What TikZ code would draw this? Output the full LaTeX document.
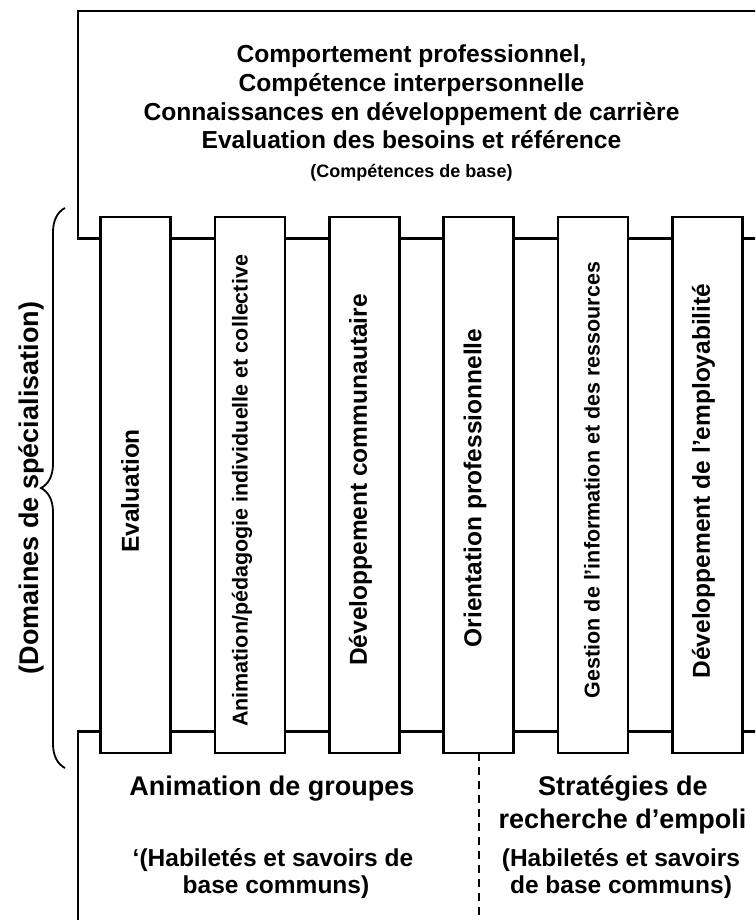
\documentclass[tikz,border=0pt]{standalone}
\usepackage{fontspec}
\setmainfont{Liberation Sans}
\usepackage{tikz}
\usetikzlibrary{positioning}
\usetikzlibrary{decorations.pathreplacing}
\tikzset{
    boxline/.style = {line width=2.6pt,draw=black,line join=miter},
    colbox/.style = {rectangle, line width=2.6pt, draw=black, fill=white, inner sep=0pt, outer sep=0pt, minimum width=70pt, minimum height=536pt},
    collabel/.style = {rotate=90, inner sep=0pt, font=\bfseries\fontsize{24.5}{28}\selectfont},
    collabels/.style = {rotate=90, inner sep=0pt, font=\bfseries\fontsize{21.5}{25}\selectfont},
    sidelabel/.style = {rotate=90, inner sep=0pt, font=\bfseries\fontsize{27}{31}\selectfont},
    headline/.style = {anchor=base, inner sep=0pt, font=\bfseries\fontsize{24.6}{28}\selectfont},
    headsmall/.style = {anchor=base, inner sep=0pt, font=\bfseries\fontsize{18}{21}\selectfont},
    bigline/.style = {anchor=base, inner sep=0pt, font=\bfseries\fontsize{27}{31}\selectfont},
    midline/.style = {anchor=base, inner sep=0pt, font=\bfseries\fontsize{24.5}{28}\selectfont},
    dashline/.style = {line width=2.4pt, dash pattern=on 8pt off 6pt},
    bracel/.style = {line width=1.8pt, decorate, decoration={brace, amplitude=24pt}}
}

\begin{document}
\begin{tikzpicture}[x=1pt,y=-1pt]
\useasboundingbox (0,0) rectangle (755,920);
\clip (0,0) rectangle (755,920);
% outer boxes
\draw[boxline] (765,11) -- (78,11) -- (78,238.5) -- (765,238.5);
\draw[boxline] (78,930) -- (78,731.5) -- (765,731.5);
%
\node[colbox] at (135.5,485) (c1) {};
\node[colbox] at (249.9,485) (c2) {};
\node[colbox] at (364.3,485) (c3) {};
\node[colbox] at (478.7,485) (c4) {};
\node[colbox] at (593.1,485) (c5) {};
\node[colbox] at (707.5,485) (c6) {};
%
\node[collabel]  at (130,491)   (l1) {Evaluation};
\node[collabels] at (242,491)   (l2) {Animation/pédagogie individuelle et collective};
\node[collabel]  at (360.5,480) (l3) {Développement communautaire};
\node[collabel]  at (475,488)   (l4) {Orientation professionnelle};
\node[collabels] at (592,480)   (l5) {Gestion de l’information et des ressources};
\node[collabel]  at (703.5,481) (l6) {Développement de l’employabilité};
%
\node[headline]  at (411.5,63)    (t1) {Comportement professionnel,};
\node[headline]  at (411.5,91.7)  (t2) {Compétence interpersonnelle};
\node[headline]  at (411.5,120.4) (t3) {Connaissances en développement de carrière};
\node[headline]  at (411.5,149)   (t4) {Evaluation des besoins et référence};
\node[headsmall] at (411.5,178)   (t5) {(Compétences de base)};
%
\coordinate (bb) at (65,768);
\coordinate (bt) at (65,208);
\draw[bracel] (bb) -- (bt);
\node[sidelabel] at (31,488) (dom) {(Domaines de spécialisation)};
%
\coordinate (dend) at (478.7,925);
\draw[dashline] (c4.south) -- (dend);
%
\node[bigline] at (272,795) (g1) {Animation de groupes};
\node[midline] at (273,866) (g2) {‘(Habiletés et savoirs de};
\node[midline] at (276,893) (g3) {base communs)};
\node[bigline] at (623,795)   (s1) {Stratégies de};
\node[bigline] at (622.5,828) (s2) {recherche d’empoli};
\node[midline] at (621,866)   (s3) {(Habiletés et savoirs};
\node[midline] at (621,893)   (s4) {de base communs)};
\end{tikzpicture}
\end{document}
